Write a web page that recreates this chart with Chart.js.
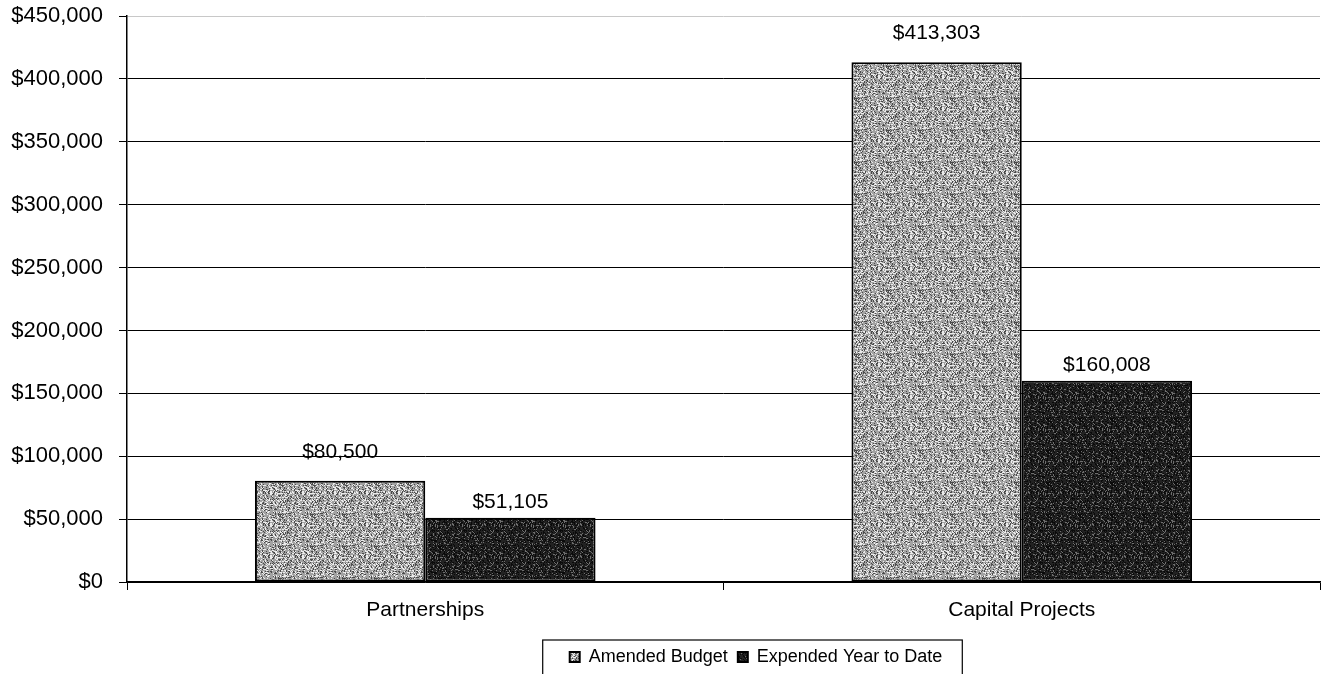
<!DOCTYPE html>
<html>
<head>
<meta charset="utf-8">
<script src="https://cdn.jsdelivr.net/npm/chart.js@4.4.0/dist/chart.umd.min.js"></script>
<style>
  html, body { margin: 0; padding: 0; background: #fff; }
  #wrap { width: 1325px; height: 674px; position: relative; }
</style>
</head>
<body>
<div id="wrap"><canvas id="chart"></canvas></div>
<script>
// Chart data
const categories = ["Partnerships", "Capital Projects"];
const amendedBudget = [80500, 413303];
const expendedYTD = [51105, 160008];
const seriesNames = ["Amended Budget", "Expended Year to Date"];
const yTicks = [0, 50000, 100000, 150000, 200000, 250000, 300000, 350000, 400000, 450000];

const FONT = "'Liberation Sans', Arial, sans-serif";

// speckled fill like the scanned print (fixed hash, just a texture)
function speckle(base, light, dark, lightShare, darkShare) {
    const size = 32;
    const c = document.createElement('canvas');
    c.width = size; c.height = size;
    const g = c.getContext('2d');
    g.fillStyle = base;
    g.fillRect(0, 0, size, size);
    for (let y = 0; y < size; y++) {
        for (let x = 0; x < size; x++) {
            let h = (x * 374761393 + y * 668265263) | 0;
            h = Math.imul(h ^ (h >>> 13), 1274126177);
            const k = ((h ^ (h >>> 16)) >>> 0) % 100;
            if (k < lightShare) { g.fillStyle = light; g.fillRect(x, y, 1, 1); }
            else if (k >= 100 - darkShare) { g.fillStyle = dark; g.fillRect(x, y, 1, 1); }
        }
    }
    return g.createPattern(c, 'repeat');
}

const lightFill = speckle('#a2a2a2', '#ececec', '#4a4a4a', 25, 22);
const darkFill = speckle('#222222', '#6e6e6e', '#0a0a0a', 14, 30);

// value labels above the bars
const valueLabels = {
    id: 'valueLabels',
    afterDatasetsDraw(chart) {
        const ctx = chart.ctx;
        const offsets = [29, 16];
        ctx.save();
        ctx.font = '21px ' + FONT;
        ctx.fillStyle = '#000';
        ctx.textAlign = 'center';
        ctx.textBaseline = 'middle';
        chart.data.datasets.forEach((ds, i) => {
            chart.getDatasetMeta(i).data.forEach((bar, j) => {
                ctx.fillText('$' + ds.data[j].toLocaleString('en-US'), bar.x, bar.y - offsets[i]);
            });
        });
        ctx.restore();
    }
};

// legend sits right of centre in the original, with a frame round it
const LEGEND_SHIFT = 96;
const legendFrame = {
    id: 'legendFrame',
    afterLayout(chart) {
        const lg = chart.legend;
        if (!lg) return;
        lg.left += LEGEND_SHIFT;
        lg.right += LEGEND_SHIFT;
        lg.legendHitBoxes.forEach(h => { h.left += LEGEND_SHIFT; });
    },
    afterDraw(chart) {
        const boxes = chart.legend && chart.legend.legendHitBoxes;
        if (!boxes || !boxes.length) return;
        const first = boxes[0], last = boxes[boxes.length - 1];
        const ctx = chart.ctx;
        ctx.save();
        ctx.strokeStyle = '#000';
        ctx.lineWidth = 1.2;
        ctx.strokeRect(first.left - 27, first.top - 8, last.left + last.width - first.left + 47, 60);
        ctx.restore();
    }
};

new Chart(document.getElementById('chart'), {
    type: 'bar',
    data: {
        labels: categories,
        datasets: [
            {
                label: seriesNames[0],
                data: amendedBudget,
                backgroundColor: lightFill,
                borderColor: '#000',
                borderWidth: 2,
                borderSkipped: false
            },
            {
                label: seriesNames[1],
                data: expendedYTD,
                backgroundColor: darkFill,
                borderColor: '#000',
                borderWidth: 2,
                borderSkipped: false
            }
        ]
    },
    options: {
        responsive: true,
        maintainAspectRatio: false,
        animation: false,
        devicePixelRatio: 1,
        datasets: {
            bar: { categoryPercentage: 0.571, barPercentage: 1.0 }
        },
        layout: { padding: { top: 16, right: 5, left: 0, bottom: -2 } },
        plugins: {
            title: { display: false },
            tooltip: { enabled: false },
            legend: {
                position: 'bottom',
                labels: {
                    boxWidth: 10,
                    boxHeight: 10,
                    padding: 10,
                    color: '#000',
                    font: { family: FONT, size: 18 }
                }
            }
        },
        scales: {
            x: {
                grid: {
                    display: true,
                    drawOnChartArea: false,
                    drawTicks: true,
                    tickLength: 8,
                    color: '#000',
                    offset: true
                },
                border: { display: true, color: '#000', width: 1.5 },
                ticks: {
                    color: '#000',
                    padding: 8,
                    font: { family: FONT, size: 21 }
                },
                afterFit: s => { s.height = 56; }
            },
            y: {
                min: 0,
                max: 450000,
                afterBuildTicks: s => { s.ticks = yTicks.map(v => ({ value: v })); },
                grid: {
                    color: c => (c.tick && c.tick.value === 450000 ? '#c8c8c8' : '#000'),
                    lineWidth: 1,
                    tickLength: 8,
                    tickColor: '#000'
                },
                border: { display: true, color: '#000', width: 1.5 },
                ticks: {
                    color: '#000',
                    padding: 16,
                    font: { family: FONT, size: 22 },
                    callback: v => '$' + Number(v).toLocaleString('en-US')
                },
                afterFit: s => {
                    s.width = 127;
                    s.paddingTop = 4;
                    s.paddingBottom = 4;
                }
            }
        }
    },
    plugins: [valueLabels, legendFrame]
});
</script>
</body>
</html>
